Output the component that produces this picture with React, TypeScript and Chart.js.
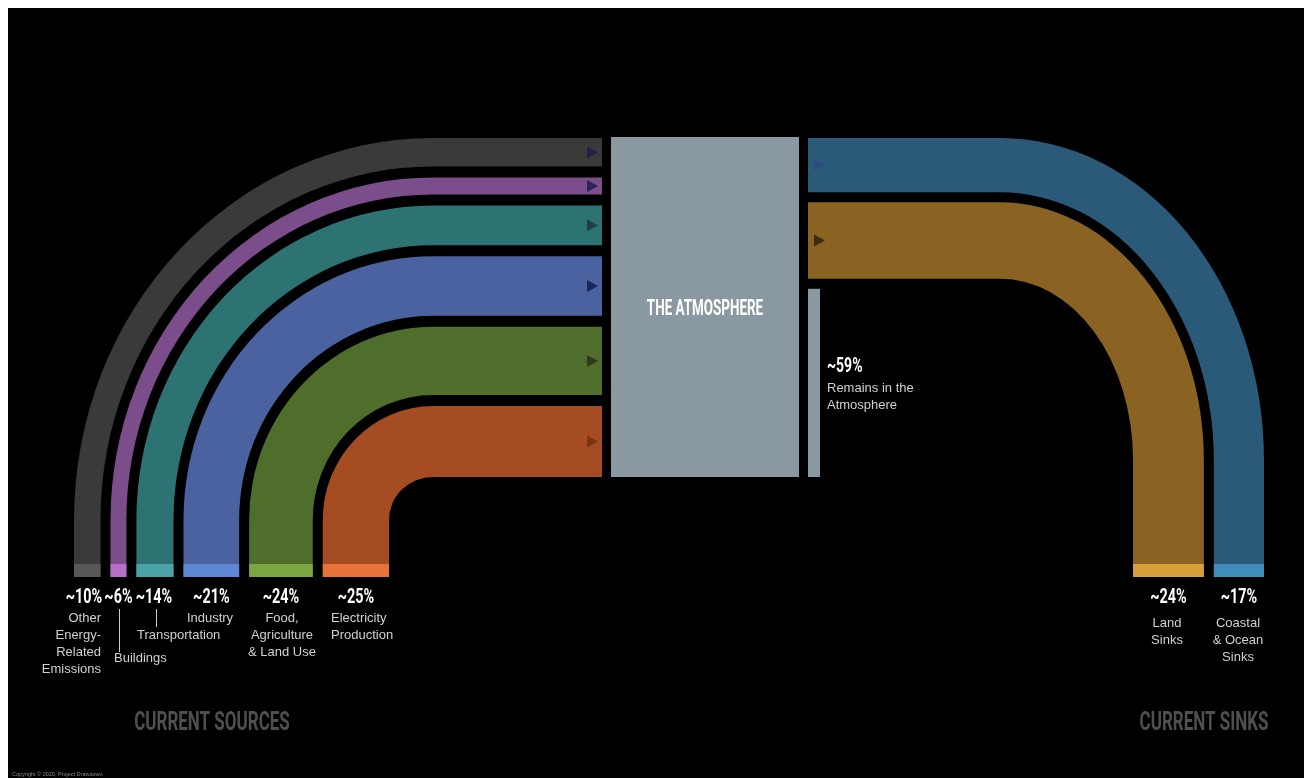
import React, { useEffect, useRef } from "react";
import { Chart, registerables } from "chart.js";

Chart.register(...registerables);

// ---------------- data ----------------
const sourceNames = [
  "Other Energy-Related Emissions",
  "Buildings",
  "Transportation",
  "Industry",
  "Food, Agriculture & Land Use",
  "Electricity Production",
];
const sourceValues = [10, 6, 14, 21, 24, 25];
const sourcePctLabels = ["~10%", "~6%", "~14%", "~21%", "~24%", "~25%"];
const sourceColors = ["#3a3a3a", "#7b4d8b", "#2e7373", "#4a62a0", "#4f6d2b", "#a54c22"];
const sourceStripColors = ["#575757", "#b46fc6", "#4aa3a6", "#5e87d6", "#7aa743", "#e8733a"];
const sourceArrowColors = ["#1f2244", "#2a2458", "#1e3f4b", "#1c2555", "#2d3b1c", "#7a3414"];

const sinkNames = ["Coastal & Ocean Sinks", "Land Sinks"]; // top-to-bottom at the atmosphere
const sinkValues = [17, 24];
const sinkPctLabels = ["~17%", "~24%"];
const sinkColors = ["#2b5a78", "#8a6222"];
const sinkStripColors = ["#3f8dba", "#d8a03a"];
const sinkArrowColors = ["#2a4f7e", "#3a2d12"];

const remainValue = 59;
const remainPctLabel = "~59%";

// ---------------- layout (page px) ----------------
const BOTTOM_Y = 577;
const STRIP_H = 13;
const SRC_X0 = 74, SRC_GAP_X = 10, SRC_KX = 2.65;
const SRC_Y0 = 138, SRC_GAP_Y = 11, SRC_KY = 2.84;
const SRC_CX = 433, SRC_CY = 520, SRC_END_X = 602;
const ATM = { x0: 611, x1: 799, y0: 137, y1: 477 };
const SINK_X0 = 808, SINK_Y0 = 138, SINK_GAP_Y = 10, SINK_KY = 3.19;
const SINK_XR = 1264, SINK_GAP_X = 10, SINK_KX = 2.95;
const SINK_CX = 1000, SINK_CY = 460;
const REMAIN_W = 12;

function condensed(ctx: CanvasRenderingContext2D, text: string, x: number, y: number, size: number, sx: number, color: string, align: "left" | "center" | "right") {
  ctx.save();
  ctx.font = `bold ${size}px Roboto, 'DejaVu Sans', sans-serif`;
  ctx.fillStyle = color;
  ctx.textBaseline = "alphabetic";
  ctx.textAlign = align;
  ctx.translate(x, y);
  ctx.scale(sx, 1);
  ctx.fillText(text, 0, 0);
  ctx.restore();
}

function plain(ctx: CanvasRenderingContext2D, text: string, x: number, y: number, align: "left" | "center" | "right", size = 13, color = "#d0d0d0") {
  ctx.save();
  ctx.font = `${size}px 'Liberation Sans', Arial, sans-serif`;
  ctx.fillStyle = color;
  ctx.textBaseline = "alphabetic";
  ctx.textAlign = align;
  ctx.fillText(text, x, y);
  ctx.restore();
}

const flowPlugin = {
  id: "flowPlugin",
  beforeDraw(chart: any) {
    const { ctx, width, height } = chart;
    ctx.save();
    ctx.fillStyle = "#000";
    ctx.fillRect(0, 0, width, height);
    ctx.restore();
  },
  afterDraw(chart: any) {
    const ctx: CanvasRenderingContext2D = chart.ctx;
    const xs = chart.scales.x;
    const ys = chart.scales.y;
    const X = (v: number) => xs.getPixelForValue(v);
    const Y = (v: number) => ys.getPixelForValue(v);

    // ---- sources ----
    let bx = SRC_X0;
    let ty = SRC_Y0;
    const srcBottoms: number[][] = [];
    sourceValues.forEach((v, i) => {
      const w = v * SRC_KX;
      const h = v * SRC_KY;
      const xo = bx, xi = bx + w;
      const yo = ty, yi = ty + h;
      srcBottoms.push([xo, xi]);
      const cx = X(SRC_CX), cy = Y(SRC_CY);
      ctx.save();
      ctx.beginPath();
      ctx.moveTo(X(xo), Y(BOTTOM_Y));
      ctx.lineTo(X(xo), cy);
      ctx.ellipse(cx, cy, Math.abs(cx - X(xo)), Math.abs(cy - Y(yo)), 0, Math.PI, Math.PI * 1.5, false);
      ctx.lineTo(X(SRC_END_X), Y(yo));
      ctx.lineTo(X(SRC_END_X), Y(yi));
      ctx.lineTo(cx, Y(yi));
      ctx.ellipse(cx, cy, Math.abs(cx - X(xi)), Math.abs(cy - Y(yi)), 0, Math.PI * 1.5, Math.PI, true);
      ctx.lineTo(X(xi), Y(BOTTOM_Y));
      ctx.closePath();
      ctx.fillStyle = sourceColors[i];
      ctx.fill();
      // bottom strip
      ctx.fillStyle = sourceStripColors[i];
      ctx.fillRect(X(xo), Y(BOTTOM_Y - STRIP_H), X(xi) - X(xo), Y(BOTTOM_Y) - Y(BOTTOM_Y - STRIP_H));
      // arrow
      const my = Y((yo + yi) / 2);
      ctx.beginPath();
      ctx.moveTo(X(SRC_END_X - 15), my - 6);
      ctx.lineTo(X(SRC_END_X - 4), my);
      ctx.lineTo(X(SRC_END_X - 15), my + 6);
      ctx.closePath();
      ctx.fillStyle = sourceArrowColors[i];
      ctx.fill();
      ctx.restore();
      bx = xi + SRC_GAP_X;
      ty = yi + SRC_GAP_Y;
    });

    // ---- atmosphere ----
    ctx.save();
    ctx.fillStyle = "#8a99a1";
    ctx.fillRect(X(ATM.x0), Y(ATM.y0), X(ATM.x1) - X(ATM.x0), Y(ATM.y1) - Y(ATM.y0));
    ctx.restore();
    condensed(ctx, "THE ATMOSPHERE", X((ATM.x0 + ATM.x1) / 2), Y(315), 22, 0.61, "#ffffff", "center");

    // ---- sinks ----
    let sy = SINK_Y0;
    let rx = SINK_XR; // outer x of current band
    const sinkBottoms: number[][] = [];
    sinkValues.forEach((v, i) => {
      const h = v * SINK_KY;
      const w = v * SINK_KX;
      const yo = sy, yi = sy + h;
      const xo = rx, xi = rx - w;
      sinkBottoms.push([xi, xo]);
      const cx = X(SINK_CX), cy = Y(SINK_CY);
      ctx.save();
      ctx.beginPath();
      ctx.moveTo(X(SINK_X0), Y(yo));
      ctx.lineTo(cx, Y(yo));
      ctx.ellipse(cx, cy, Math.abs(X(xo) - cx), Math.abs(cy - Y(yo)), 0, Math.PI * 1.5, Math.PI * 2, false);
      ctx.lineTo(X(xo), Y(BOTTOM_Y));
      ctx.lineTo(X(xi), Y(BOTTOM_Y));
      ctx.lineTo(X(xi), cy);
      ctx.ellipse(cx, cy, Math.abs(X(xi) - cx), Math.abs(cy - Y(yi)), 0, Math.PI * 2, Math.PI * 1.5, true);
      ctx.lineTo(X(SINK_X0), Y(yi));
      ctx.closePath();
      ctx.fillStyle = sinkColors[i];
      ctx.fill();
      ctx.fillStyle = sinkStripColors[i];
      ctx.fillRect(X(xi), Y(BOTTOM_Y - STRIP_H), X(xo) - X(xi), Y(BOTTOM_Y) - Y(BOTTOM_Y - STRIP_H));
      const my = Y((yo + yi) / 2);
      ctx.beginPath();
      ctx.moveTo(X(SINK_X0 + 6), my - 6);
      ctx.lineTo(X(SINK_X0 + 17), my);
      ctx.lineTo(X(SINK_X0 + 6), my + 6);
      ctx.closePath();
      ctx.fillStyle = sinkArrowColors[i];
      ctx.fill();
      ctx.restore();
      sy = yi + SINK_GAP_Y;
      rx = xi - SINK_GAP_X;
    });

    // remains bar
    const ry0 = sy, ry1 = sy + remainValue * SINK_KY;
    ctx.save();
    ctx.fillStyle = "#8a99a1";
    ctx.fillRect(X(SINK_X0), Y(ry0), X(SINK_X0 + REMAIN_W) - X(SINK_X0), Y(ry1) - Y(ry0));
    ctx.restore();
    condensed(ctx, remainPctLabel, X(827), Y(372), 20, 0.7, "#ffffff", "left");
    plain(ctx, "Remains in the", X(827), Y(392), "left");
    plain(ctx, "Atmosphere", X(827), Y(409), "left");

    // ---- source labels ----
    const PCT_Y = 603;
    sourcePctLabels.forEach((t, i) => {
      const [a, b] = srcBottoms[i];
      let cxv = (a + b) / 2;
      if (i === 0) cxv = 84;
      if (i === 2) cxv = 154;
      if (i === 5) cxv = 356;
      condensed(ctx, t, X(cxv), Y(PCT_Y), 20, 0.72, "#ffffff", "center");
    });
    ["Other", "Energy-", "Related", "Emissions"].forEach((s, k) => plain(ctx, s, X(101), Y(622 + k * 17), "right"));
    ctx.save();
    ctx.strokeStyle = "#cfcfcf";
    ctx.lineWidth = 1;
    ctx.beginPath();
    ctx.moveTo(X(119) + 0.5, Y(609));
    ctx.lineTo(X(119) + 0.5, Y(652));
    ctx.moveTo(X(156) + 0.5, Y(609));
    ctx.lineTo(X(156) + 0.5, Y(627));
    ctx.stroke();
    ctx.restore();
    plain(ctx, "Buildings", X(114), Y(662), "left");
    plain(ctx, "Transportation", X(137), Y(639), "left");
    plain(ctx, "Industry", X(210), Y(622), "center");
    ["Food,", "Agriculture", "& Land Use"].forEach((s, k) => plain(ctx, s, X(282), Y(622 + k * 17), "center"));
    ["Electricity", "Production"].forEach((s, k) => plain(ctx, s, X(331), Y(622 + k * 17), "left"));

    // ---- sink labels ----
    const [ca, cb] = sinkBottoms[0];
    const [la, lb] = sinkBottoms[1];
    condensed(ctx, sinkPctLabels[1], X((la + lb) / 2), Y(PCT_Y), 20, 0.72, "#ffffff", "center");
    condensed(ctx, sinkPctLabels[0], X((ca + cb) / 2), Y(PCT_Y), 20, 0.72, "#ffffff", "center");
    ["Land", "Sinks"].forEach((s, k) => plain(ctx, s, X(1167), Y(627 + k * 17), "center"));
    ["Coastal", "& Ocean", "Sinks"].forEach((s, k) => plain(ctx, s, X(1238), Y(627 + k * 17), "center"));

    // ---- section titles ----
    condensed(ctx, "CURRENT SOURCES", X(212), Y(730), 25, 0.68, "#4f4f4f", "center");
    condensed(ctx, "CURRENT SINKS", X(1204), Y(730), 25, 0.68, "#4f4f4f", "center");
    plain(ctx, "Copyright © 2020, Project Drawdown", X(12), Y(776), "left", 5.5, "#8a8a8a");
  },
};

export default function App() {
  const ref = useRef<HTMLCanvasElement | null>(null);
  useEffect(() => {
    if (!ref.current) return;
    const chart = new Chart(ref.current, {
      type: "scatter",
      data: { datasets: [] },
      options: {
        responsive: false,
        animation: false,
        events: [],
        devicePixelRatio: 1,
        layout: { padding: 0 },
        plugins: { legend: { display: false }, tooltip: { enabled: false }, title: { display: false } },
        scales: {
          x: { type: "linear", display: false, min: 8, max: 1304 },
          y: { type: "linear", display: false, min: 8, max: 778, reverse: true },
        },
      },
      plugins: [flowPlugin],
    } as any);
    return () => chart.destroy();
  }, []);
  return (
    <div style={{ position: "absolute", left: 8, top: 8, width: 1296, height: 770 }}>
      <canvas ref={ref} width={1296} height={770} style={{ display: "block", width: 1296, height: 770 }} />
    </div>
  );
}
